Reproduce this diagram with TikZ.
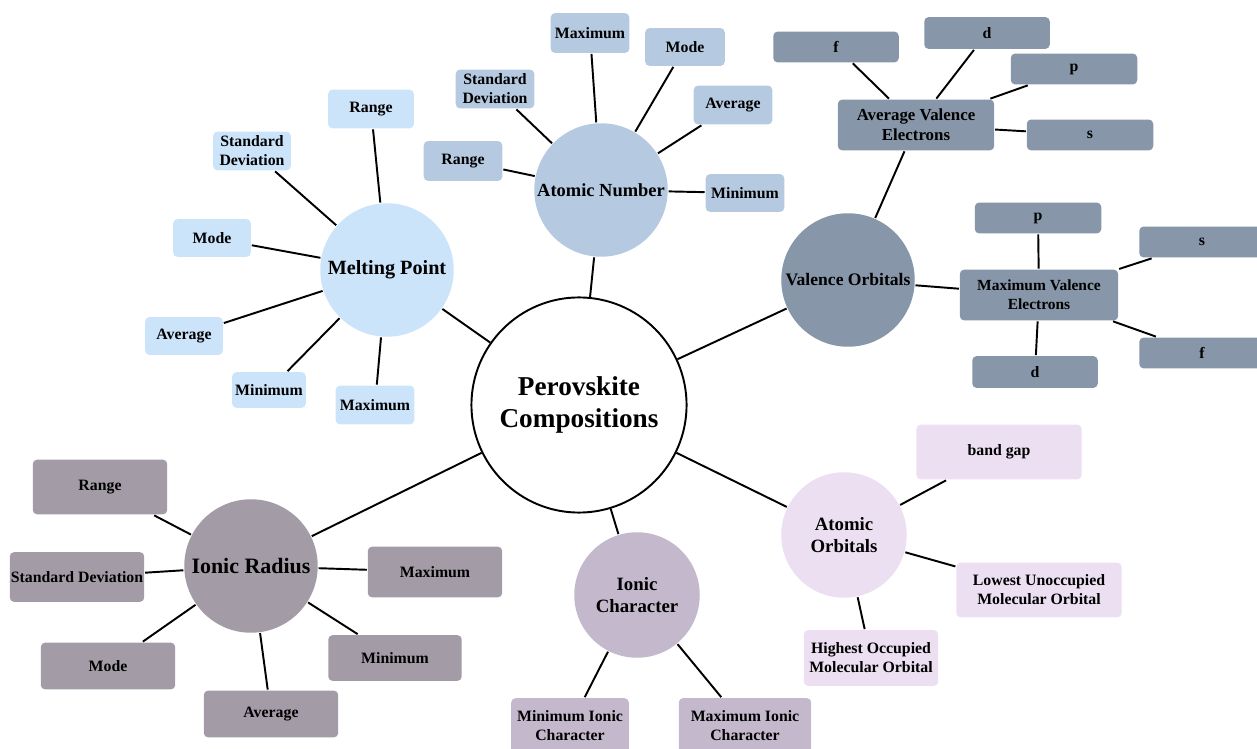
\documentclass[tikz,border=0pt]{standalone}
\usepackage{fontspec}
\setmainfont{Liberation Serif}
\usepackage{xcolor}
\usepackage{tikz}
\usetikzlibrary{positioning}

\definecolor{meltblue}{HTML}{CCE4FA}
\definecolor{atomblue}{HTML}{B5CAE1}
\definecolor{valgrey}{HTML}{8796A8}
\definecolor{radgrey}{HTML}{A39BA6}
\definecolor{charmauve}{HTML}{C4B9CC}
\definecolor{orblilac}{HTML}{EBDFF1}

\begin{document}
\begin{tikzpicture}[x=0.02cm, y=-0.02cm, line width=1.1pt,
    topic/.style={circle, inner sep=0pt, align=center, minimum size=134*0.5669pt},
    leaf/.style={rectangle, rounded corners=2.5pt, inner sep=0pt, align=center,
        font=\bfseries\fontsize{9}{10.8}\selectfont},
    boxsize/.style 2 args={minimum width=#1*0.5669pt, minimum height=#2*0.5669pt}]
    \useasboundingbox (0,0) rectangle (1257,749);

    \node[circle, draw, fill=white, inner sep=0pt, minimum size=216*0.5669pt, align=center,
        font=\bfseries\fontsize{15.5}{18}\selectfont] (hub) at (579,405) {Perovskite\\Compositions};

    \node[topic, fill=meltblue, font=\bfseries\fontsize{11.5}{13.8}\selectfont] (melting) at (387,270) {Melting Point};
    \node[leaf, fill=meltblue, boxsize={86}{39}] (meltrange) at (371,109) {Range};
    \node[leaf, fill=meltblue, boxsize={78}{39}] (meltstd) at (252,151) {Standard\\Deviation};
    \node[leaf, fill=meltblue, boxsize={78}{38}] (meltmode) at (212,238) {Mode};
    \node[leaf, fill=meltblue, boxsize={78}{38}] (meltavg) at (184,336) {Average};
    \node[leaf, fill=meltblue, boxsize={74}{36}] (meltmin) at (269,390) {Minimum};
    \node[leaf, fill=meltblue, boxsize={79}{39}] (meltmax) at (375,405) {Maximum};

    \node[topic, fill=atomblue, font=\bfseries\fontsize{10.5}{12.6}\selectfont] (atomic) at (601,190) {Atomic Number};
    \node[leaf, fill=atomblue, boxsize={79}{40}] (atommax) at (590,33) {Maximum};
    \node[leaf, fill=atomblue, boxsize={80}{38}] (atommode) at (685,47) {Mode};
    \node[leaf, fill=atomblue, boxsize={79}{39}] (atomstd) at (495,89) {Standard\\Deviation};
    \node[leaf, fill=atomblue, boxsize={79}{39}] (atomavg) at (733,105) {Average};
    \node[leaf, fill=atomblue, boxsize={79}{40}] (atomrange) at (463,161) {Range};
    \node[leaf, fill=atomblue, boxsize={79}{38}] (atommin) at (745,193) {Minimum};

    \node[topic, fill=valgrey, font=\bfseries\fontsize{10}{12}\selectfont] (valence) at (848,280) {Valence Orbitals};
    \node[leaf, fill=valgrey, boxsize={157}{51}, font=\bfseries\fontsize{9.6}{11.5}\selectfont] (avgval) at (916,125) {Average Valence\\Electrons};
    \node[leaf, fill=valgrey, boxsize={126}{31}] (avgf) at (836,47) {f};
    \node[leaf, fill=valgrey, boxsize={126}{32}] (avgd) at (987,33) {d};
    \node[leaf, fill=valgrey, boxsize={127}{31}] (avgp) at (1074,69) {p};
    \node[leaf, fill=valgrey, boxsize={127}{31}] (avgs) at (1090,135) {s};
    \node[leaf, fill=valgrey, boxsize={159}{51}, font=\bfseries\fontsize{8.8}{10.8}\selectfont] (maxval) at (1039,295) {Maximum Valence\\Electrons};
    \node[leaf, fill=valgrey, boxsize={127}{31}] (maxp) at (1038,218) {p};
    \node[leaf, fill=valgrey, boxsize={126}{31}] (maxs) at (1202,242) {s};
    \node[leaf, fill=valgrey, boxsize={126}{31}] (maxf) at (1202,353) {f};
    \node[leaf, fill=valgrey, boxsize={126}{32}] (maxd) at (1035,372) {d};

    \node[topic, fill=radgrey, font=\bfseries\fontsize{12.5}{15}\selectfont] (radius) at (251,566) {Ionic Radius};
    \node[leaf, fill=radgrey, boxsize={135}{55}] (radrange) at (100,487) {Range};
    \node[leaf, fill=radgrey, boxsize={135}{50}] (radstd) at (77,577) {Standard Deviation};
    \node[leaf, fill=radgrey, boxsize={135}{47}] (radmode) at (108,666) {Mode};
    \node[leaf, fill=radgrey, boxsize={135}{47}] (radavg) at (271,714) {Average};
    \node[leaf, fill=radgrey, boxsize={134}{46}] (radmin) at (395,658) {Minimum};
    \node[leaf, fill=radgrey, boxsize={135}{51}] (radmax) at (435,572) {Maximum};

    \node[topic, fill=charmauve, minimum size=126*0.5669pt, font=\bfseries\fontsize{10.7}{13}\selectfont] (character) at (637,595) {Ionic\\Character};
    \node[leaf, fill=charmauve, boxsize={118}{56}] (charmin) at (570,726) {Minimum Ionic\\Character};
    \node[leaf, fill=charmauve, boxsize={133}{56}] (charmax) at (745,726) {Maximum Ionic\\Character};

    \node[topic, fill=orblilac, minimum size=126*0.5669pt, font=\bfseries\fontsize{10.7}{12.5}\selectfont] (orbitals) at (844,535) {Atomic\\Orbitals};
    \node[leaf, fill=orblilac, boxsize={166}{55}] (bandgap) at (999,452) {band gap};
    \node[leaf, fill=orblilac, boxsize={166}{55}] (lumo) at (1039,590) {Lowest Unoccupied\\Molecular Orbital};
    \node[leaf, fill=orblilac, boxsize={135}{56}] (homo) at (871,658) {Highest Occupied\\Molecular Orbital};

    \draw (hub) -- (melting);
    \draw (hub) -- (atomic);
    \draw (hub) -- (valence);
    \draw (hub) -- (radius);
    \draw (hub) -- (character);
    \draw (hub) -- (orbitals);

    \draw (melting) -- (meltrange);
    \draw (melting) -- (meltstd);
    \draw (melting) -- (meltmode);
    \draw (melting) -- (meltavg);
    \draw (melting) -- (meltmin);
    \draw (melting) -- (meltmax);

    \draw (atomic) -- (atommax);
    \draw (atomic) -- (atommode);
    \draw (atomic) -- (atomstd);
    \draw (atomic) -- (atomavg);
    \draw (atomic) -- (atomrange);
    \draw (atomic) -- (atommin);

    \draw (valence) -- (avgval);
    \draw (avgval) -- (avgf);
    \draw (avgval) -- (avgd);
    \draw (avgval) -- (avgp);
    \draw (avgval) -- (avgs);
    \draw (valence) -- (maxval);
    \draw (maxval) -- (maxp);
    \draw (maxval) -- (maxs);
    \draw (maxval) -- (maxf);
    \draw (maxval) -- (maxd);

    \draw (radius) -- (radrange);
    \draw (radius) -- (radstd);
    \draw (radius) -- (radmode);
    \draw (radius) -- (radavg);
    \draw (radius) -- (radmin);
    \draw (radius) -- (radmax);

    \draw (character) -- (charmin);
    \draw (character) -- (charmax);

    \draw (orbitals) -- (bandgap);
    \draw (orbitals) -- (lumo);
    \draw (orbitals) -- (homo);
\end{tikzpicture}
\end{document}
